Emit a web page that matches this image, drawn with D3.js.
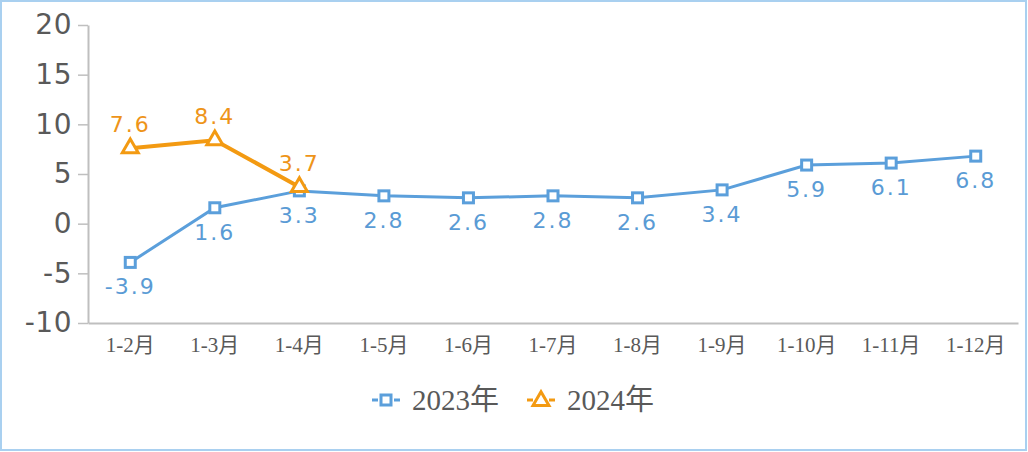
<!DOCTYPE html>
<html><head><meta charset="utf-8">
<script src="https://cdn.jsdelivr.net/npm/d3@7/dist/d3.min.js"></script>
<style>
html,body{margin:0;padding:0;background:#fff;}
svg{display:block;}
.serif{font-family:"Liberation Serif","DejaVu Serif","Noto Sans CJK SC",serif;}
.sans{font-family:"DejaVu Sans",Verdana,sans-serif;}
</style></head>
<body>
<svg id="chart" width="1028" height="452"></svg>
<script>
const categories = ["1-2月","1-3月","1-4月","1-5月","1-6月","1-7月","1-8月","1-9月","1-10月","1-11月","1-12月"];
const series2023 = [-3.9,1.6,3.3,2.8,2.6,2.8,2.6,3.4,5.9,6.1,6.8];
const series2024 = [7.6,8.4,3.7];
const yTicks = [-10,-5,0,5,10,15,20];
const seriesNames = ["2023年","2024年"];

(function(){
const blue = "#5B9FDB", orange = "#F39A12";
const blueText = "#5A9BD5", orangeText = "#EE9419";
const svg = d3.select("#chart");
svg.append("rect").attr("x",1).attr("y",1).attr("width",1025).attr("height",449)
  .attr("fill","#fff").attr("stroke","#A9D0F0").attr("stroke-width",2);

const mLeft=88, mRight=1018, mTop=25, mBottom=323;
const x = d3.scaleBand().domain(categories).range([mLeft,mRight]);
const y = d3.scaleLinear().domain([-10,20]).range([mBottom,mTop]);
const cx = d => x(d)+x.bandwidth()/2;

const ya = svg.append("g").attr("transform",`translate(${mLeft},0)`)
  .call(d3.axisLeft(y).tickValues(yTicks).tickFormat(d=>String(d)).tickSize(10).tickPadding(6).tickSizeOuter(0));
ya.attr("font-family",null);
ya.select(".domain").attr("stroke","#BFBFBF").attr("stroke-width",2);
ya.selectAll(".tick line").attr("stroke","#BFBFBF").attr("stroke-width",1.5);
ya.selectAll(".tick text").attr("class","sans").attr("fill","#595959").attr("font-size",28).attr("letter-spacing",0.5);

const xa = svg.append("g").attr("transform",`translate(0,${mBottom})`)
  .call(d3.axisBottom(x).tickSize(0).tickPadding(14).tickSizeOuter(0));
xa.attr("font-family",null);
xa.select(".domain").attr("stroke","#BFBFBF").attr("stroke-width",2);
xa.selectAll(".tick text").attr("class","serif").attr("fill","#595959").attr("font-size",21);

const line = d3.line().x((d,i)=>cx(categories[i])).y(d=>y(d));

svg.append("path").datum(series2023).attr("d",line).attr("fill","none").attr("stroke",blue).attr("stroke-width",3);
svg.selectAll(".m23").data(series2023).enter().append("rect")
  .attr("x",(d,i)=>cx(categories[i])-5).attr("y",d=>y(d)-5).attr("width",10).attr("height",10)
  .attr("fill","#fff").attr("stroke",blue).attr("stroke-width",3);
svg.selectAll(".l23").data(series2023).enter().append("text")
  .attr("class","sans")
  .attr("x",(d,i)=>cx(categories[i])).attr("y",d=>y(d)+32)
  .attr("text-anchor","middle").attr("fill",blueText)
  .attr("font-size",22).attr("letter-spacing",2)
  .text(d=>d.toFixed(1));

svg.append("path").datum(series2024).attr("d",line).attr("fill","none").attr("stroke",orange).attr("stroke-width",4);
const tri = d3.symbol().type(d3.symbolTriangle).size(110);
svg.selectAll(".m24").data(series2024).enter().append("path")
  .attr("d",tri).attr("transform",(d,i)=>`translate(${cx(categories[i])},${y(d)})`)
  .attr("fill","#fff").attr("stroke",orange).attr("stroke-width",3);
svg.selectAll(".l24").data(series2024).enter().append("text")
  .attr("class","sans")
  .attr("x",(d,i)=>cx(categories[i])).attr("y",d=>y(d)-16)
  .attr("text-anchor","middle").attr("fill",orangeText)
  .attr("font-size",22).attr("letter-spacing",2)
  .text(d=>d.toFixed(1));

const lg = svg.append("g");
const items = [{name:seriesNames[0],c:blue,t:"sq",x:372},{name:seriesNames[1],c:orange,t:"tri",x:527}];
items.forEach(it=>{
  const g = lg.append("g").attr("transform",`translate(${it.x},400)`);
  g.append("line").attr("x1",0).attr("x2",6).attr("y1",0).attr("y2",0).attr("stroke",it.c).attr("stroke-width",3);
  g.append("line").attr("x1",22).attr("x2",28).attr("y1",0).attr("y2",0).attr("stroke",it.c).attr("stroke-width",3);
  if(it.t==="sq"){
    g.append("rect").attr("x",9).attr("y",-5).attr("width",10).attr("height",10).attr("fill","#fff").attr("stroke",it.c).attr("stroke-width",3);
  } else {
    g.append("path").attr("d",tri).attr("transform","translate(14,1)").attr("fill","#fff").attr("stroke",it.c).attr("stroke-width",3);
  }
  g.append("text").attr("class","serif").attr("x",40).attr("y",10).attr("fill","#595959")
    .attr("font-size",29).text(it.name);
});
})();
</script>
</body></html>
